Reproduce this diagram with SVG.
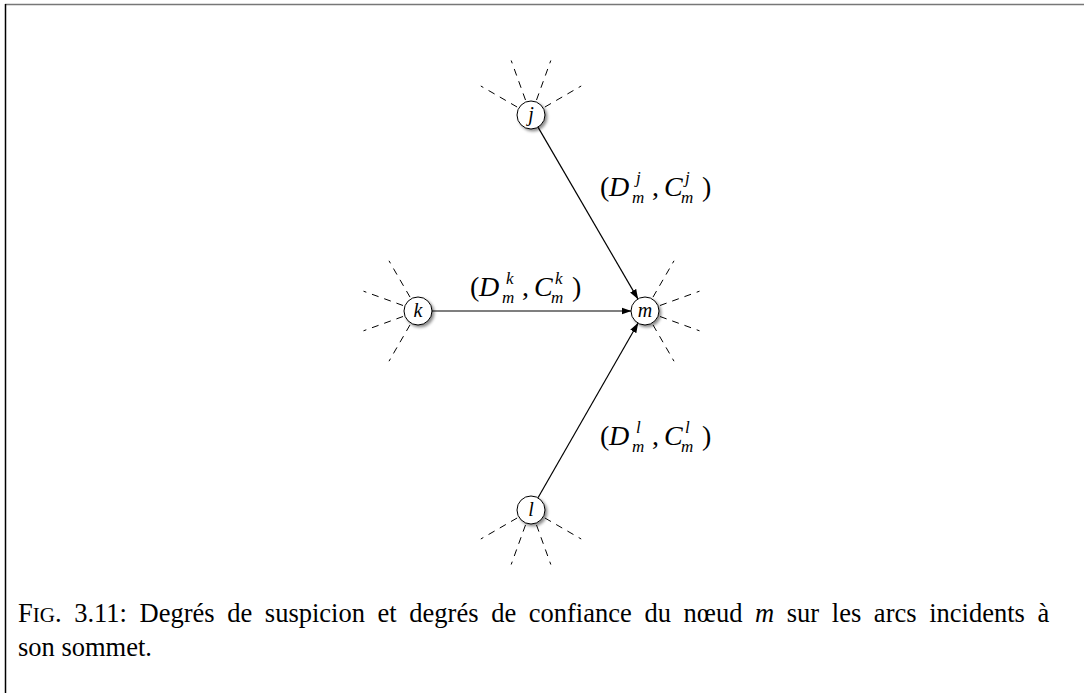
<svg xmlns="http://www.w3.org/2000/svg" width="1084" height="693" viewBox="0 0 1084 693">
<style>
.node{fill:#fff;stroke:#000;stroke-width:1}
.nl{font-family:"Liberation Serif",serif;font-style:italic;font-size:20px;text-anchor:middle}
.ray{stroke:#000;stroke-width:1;stroke-dasharray:7 6;fill:none}
.edge{stroke:#000;stroke-width:1.2;fill:none}
.m{font-family:"Liberation Serif",serif;font-size:28px}
.mi{font-family:"Liberation Serif",serif;font-style:italic;font-size:28px}
.s{font-family:"Liberation Serif",serif;font-style:italic;font-size:17px}
.cap{font-family:"Liberation Serif",serif;font-size:26.5px}
</style>
<defs>
<filter id="sh" x="-50%" y="-50%" width="200%" height="200%">
<feDropShadow dx="2" dy="2" stdDeviation="1.5" flood-color="#000" flood-opacity="0.45"/>
</filter>
<marker id="ah" markerWidth="10" markerHeight="8" refX="9.5" refY="4" orient="auto" markerUnits="userSpaceOnUse">
<path d="M0,0.5 L10,4 L0,7.5 z" fill="#000"/>
</marker>
</defs>
<rect width="1084" height="693" fill="#fff"/>
<g id="frame">
<line x1="5" y1="4.5" x2="1084" y2="4.5" stroke="#777" stroke-width="1.5"/>
<line x1="5.5" y1="4" x2="5.5" y2="693" stroke="#000" stroke-width="1.5"/>
</g>
<g id="connectors">
<line class="edge" x1="538" y1="127.1" x2="637.9" y2="298.9" marker-end="url(#ah)"/>
<line class="edge" x1="432" y1="311" x2="631" y2="311" marker-end="url(#ah)"/>
<line class="edge" x1="538" y1="497.8" x2="638" y2="323.2" marker-end="url(#ah)"/>
</g>
<g id="node-j">
<line class="ray" x1="544.9" y1="107" x2="581.2" y2="86"/>
<line class="ray" x1="536.5" y1="100" x2="550.8" y2="60.5"/>
<line class="ray" x1="525.5" y1="100" x2="511.2" y2="60.5"/>
<line class="ray" x1="517.1" y1="107" x2="480.8" y2="86"/>
<circle class="node" cx="531" cy="115" r="14" filter="url(#sh)"/>
<text class="nl" x="531" y="121">j</text>
</g>
<g id="node-k">
<line class="ray" x1="410" y1="297.1" x2="389" y2="260.8"/>
<line class="ray" x1="403" y1="305.5" x2="363.5" y2="291.2"/>
<line class="ray" x1="403" y1="316.5" x2="363.5" y2="330.8"/>
<line class="ray" x1="410" y1="324.9" x2="389" y2="361.2"/>
<circle class="node" cx="418" cy="311" r="14" filter="url(#sh)"/>
<text class="nl" x="418" y="317">k</text>
</g>
<g id="node-m">
<line class="ray" x1="653" y1="297.1" x2="674" y2="260.8"/>
<line class="ray" x1="660" y1="305.5" x2="699.5" y2="291.2"/>
<line class="ray" x1="660" y1="316.5" x2="699.5" y2="330.8"/>
<line class="ray" x1="653" y1="324.9" x2="674" y2="361.2"/>
<circle class="node" cx="645" cy="311" r="14" filter="url(#sh)"/>
<text class="nl" x="645" y="317">m</text>
</g>
<g id="node-l">
<line class="ray" x1="544.9" y1="518" x2="581.2" y2="539"/>
<line class="ray" x1="536.5" y1="525" x2="550.8" y2="564.5"/>
<line class="ray" x1="525.5" y1="525" x2="511.2" y2="564.5"/>
<line class="ray" x1="517.1" y1="518" x2="480.8" y2="539"/>
<circle class="node" cx="531" cy="510" r="14" filter="url(#sh)"/>
<text class="nl" x="531" y="516">l</text>
</g>
<g id="label-j">
<text class="m" x="600" y="196">(</text>
<text class="mi" x="609" y="196">D</text>
<text class="s" x="636" y="183">j</text>
<text class="s" x="632" y="203">m</text>
<text class="m" x="652" y="196">,</text>
<text class="mi" x="664" y="196">C</text>
<text class="s" x="685" y="183">j</text>
<text class="s" x="681" y="203">m</text>
<text class="m" x="702" y="196">)</text>
</g>
<g id="label-k">
<text class="m" x="470" y="296">(</text>
<text class="mi" x="479" y="296">D</text>
<text class="s" x="506" y="284">k</text>
<text class="s" x="502" y="303">m</text>
<text class="m" x="522" y="296">,</text>
<text class="mi" x="534" y="296">C</text>
<text class="s" x="555" y="284">k</text>
<text class="s" x="551" y="303">m</text>
<text class="m" x="572" y="296">)</text>
</g>
<g id="label-l">
<text class="m" x="600" y="445">(</text>
<text class="mi" x="609" y="445">D</text>
<text class="s" x="636" y="433">l</text>
<text class="s" x="632" y="452">m</text>
<text class="m" x="652" y="445">,</text>
<text class="mi" x="664" y="445">C</text>
<text class="s" x="685" y="433">l</text>
<text class="s" x="681" y="452">m</text>
<text class="m" x="702" y="445">)</text>
</g>
<g id="caption">
<text class="cap" x="18" y="622" word-spacing="6">F<tspan font-size="21px">IG</tspan>. 3.11: Degrés de suspicion et degrés de confiance du nœud <tspan font-style="italic">m</tspan> sur les arcs incidents à</text>
<text class="cap" x="18" y="656">son sommet.</text>
</g>
</svg>
